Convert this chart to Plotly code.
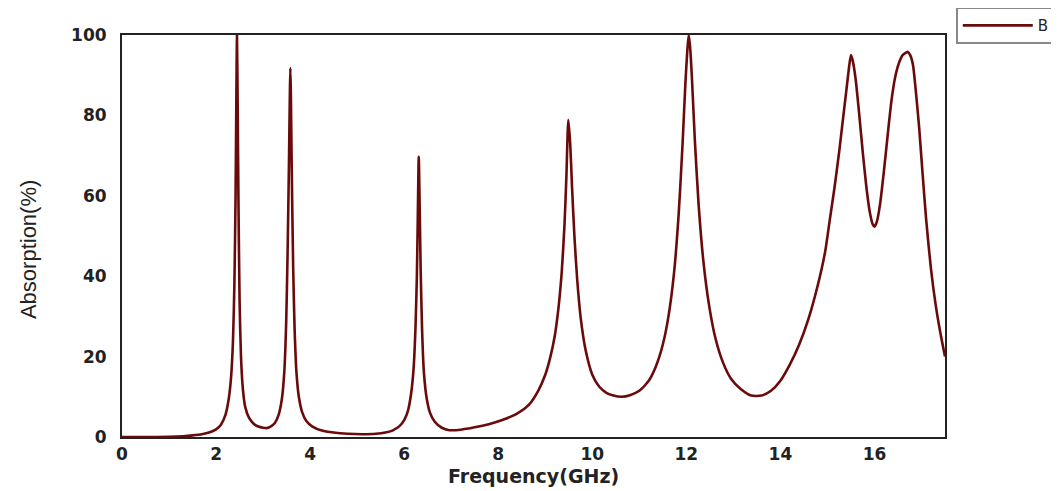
import plotly.graph_objects as go

freq = [0.0, 0.5, 1.0, 1.3, 1.5, 1.7, 1.85, 2.0, 2.1, 2.2, 2.27, 2.32, 2.36, 2.39, 2.415, 2.43, 2.445,
        2.46, 2.475, 2.5, 2.53, 2.57, 2.62, 2.7, 2.8, 2.9, 3.0, 3.07, 3.15, 3.25, 3.33, 3.4, 3.45, 3.49,
        3.52, 3.55, 3.57, 3.58, 3.59, 3.61, 3.64, 3.67, 3.71, 3.76, 3.83, 3.92, 4.05, 4.25, 4.5, 4.8,
        5.1, 5.4, 5.6, 5.75, 5.9, 6.0, 6.08, 6.15, 6.2, 6.24, 6.27, 6.29, 6.31, 6.33, 6.35, 6.38, 6.42,
        6.48, 6.55, 6.65, 6.8, 6.96, 7.2, 7.5, 7.8, 8.1, 8.4, 8.65, 8.85, 9.0, 9.1, 9.2, 9.28, 9.35,
        9.41, 9.45, 9.49, 9.53, 9.57, 9.62, 9.68, 9.76, 9.86, 10.0, 10.15, 10.3, 10.45, 10.63, 10.8,
        11.0, 11.2, 11.35, 11.5, 11.62, 11.74, 11.84, 11.92, 11.98, 12.02, 12.05, 12.08, 12.12, 12.18,
        12.26, 12.36, 12.48, 12.62, 12.78, 12.95, 13.15, 13.38, 13.6, 13.8, 14.0, 14.2, 14.4, 14.6,
        14.8, 14.95, 15.05, 15.15, 15.25, 15.33, 15.4, 15.46, 15.5, 15.54, 15.6, 15.67, 15.75, 15.83,
        15.9, 15.96, 16.0, 16.05, 16.12, 16.2, 16.28, 16.36, 16.44, 16.52, 16.6, 16.67, 16.71, 16.76,
        16.82, 16.88, 16.95, 17.02, 17.1, 17.2, 17.3, 17.4, 17.5]
absorption = [0.0, 0.0, 0.05, 0.2, 0.4, 0.7, 1.1, 1.9, 3.0, 5.5, 9.5, 15.0, 24.0, 38.0, 60.0, 82.0, 100.0,
              82.0, 60.0, 34.0, 20.0, 12.0, 7.5, 4.8, 3.3, 2.6, 2.3, 2.2, 2.5, 3.5, 5.5, 9.5, 16.0, 28.0,
              45.0, 68.0, 86.0, 91.8, 86.0, 66.0, 42.0, 27.0, 16.0, 10.0, 6.2, 4.0, 2.6, 1.6, 1.1, 0.8,
              0.7, 0.8, 1.1, 1.6, 2.7, 4.2, 6.5, 11.0, 17.0, 27.0, 40.0, 55.0, 69.7, 57.0, 42.0, 27.0, 16.0,
              9.5, 6.0, 3.8, 2.3, 1.7, 1.8, 2.4, 3.2, 4.3, 5.8, 8.0, 11.5, 15.5, 19.5, 25.0, 32.0, 41.0,
              53.0, 65.0, 78.9, 73.0, 62.0, 50.0, 39.0, 29.0, 21.5, 15.5, 12.5, 11.0, 10.3, 10.0, 10.4,
              11.5, 14.0, 17.5, 23.0, 30.0, 41.0, 56.0, 73.0, 88.0, 96.0, 100.0, 97.0, 89.0, 74.0,
              58.0, 44.0, 33.0, 24.5, 18.5, 14.5, 12.0, 10.3, 10.3, 11.5, 14.0, 18.0, 23.0, 29.5,
              38.0, 46.0, 54.0, 62.0, 71.0, 79.0, 86.0, 92.0, 95.0, 93.5, 89.0, 81.0, 71.0, 62.0,
              56.0, 53.0, 52.3, 53.5, 58.0, 66.0, 75.0, 83.5, 89.5, 93.0, 95.0, 95.6, 95.8, 95.0,
              92.5, 86.0, 77.0, 66.0, 54.0, 42.0, 33.0, 26.0, 20.0]

x_ticks = [0, 2, 4, 6, 8, 10, 12, 14, 16]
y_ticks = [0, 20, 40, 60, 80, 100]
x_title = "Frequency(GHz)"
y_title = "Absorption(%)"

fig = go.Figure()
fig.add_trace(go.Scatter(
    x=freq, y=absorption, mode="lines", name="B",
    line=dict(color="#6a0a0a", width=2.6, shape="spline", smoothing=0.6),
))

tick_font = dict(family="DejaVu Sans", size=17, color="#222", weight="bold")

fig.update_layout(
    width=1051, height=483,
    margin=dict(l=114, r=114, t=27, b=54, autoexpand=False),
    paper_bgcolor="white", plot_bgcolor="white",
    showlegend=True,
    legend=dict(
        x=1.134, y=1.068, xanchor="right", yanchor="top",
        bordercolor="#888888", borderwidth=1.5, bgcolor="white",
        font=dict(family="DejaVu Sans", size=15, color="#222"),
        itemwidth=70, tracegroupgap=0,
    ),
    font=dict(family="Liberation Sans", color="#222"),
    annotations=[
        dict(text="<b>" + x_title + "</b>", xref="paper", yref="paper", x=0.5, y=-0.098,
             xanchor="center", yanchor="middle", showarrow=False,
             font=dict(family="DejaVu Sans", size=19, color="#222")),
        dict(text=y_title, xref="paper", yref="paper", x=0, y=0.465, xshift=-94,
             xanchor="center", yanchor="middle", textangle=-90, showarrow=False,
             font=dict(family="Liberation Sans", size=22, color="#222")),
    ],
)
fig.update_xaxes(
    range=[0, 17.5], tickvals=x_ticks, ticktext=[str(v) for v in x_ticks],
    showgrid=False, zeroline=False, showline=True, mirror=True,
    linecolor="#222", linewidth=2, ticks="", automargin=False,
    tickfont=tick_font, ticklabelstandoff=1,
)
fig.update_yaxes(
    range=[0, 100], tickvals=y_ticks, ticktext=[str(v) for v in y_ticks],
    showgrid=False, zeroline=False, showline=True, mirror=True,
    linecolor="#222", linewidth=2, ticks="", automargin=False,
    tickfont=tick_font, ticklabelstandoff=10,
)

fig.write_html("out.html")
